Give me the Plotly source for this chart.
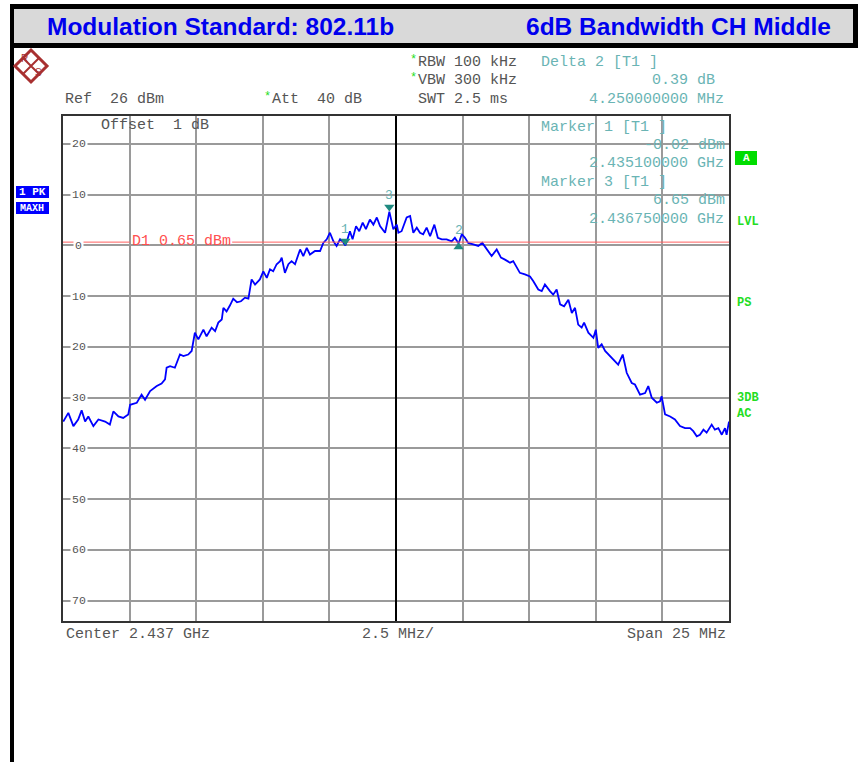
import plotly.graph_objects as go

# ---------------- data ----------------
center_ghz = 2.437
span_mhz = 25.0
ref_level_dbm = 26
freq_offset_mhz = [
    -12.49, -12.30, -12.11, -11.93, -11.80, -11.67, -11.55, -11.36, -11.17, -10.92,
    -10.74, -10.61, -10.42, -10.24, -10.05, -9.98, -9.73, -9.55, -9.42, -9.23,
    -8.98, -8.80, -8.67, -8.61, -8.48, -8.30, -8.11, -7.98, -7.80, -7.67,
    -7.55, -7.42, -7.23, -7.11, -6.92, -6.79, -6.67, -6.54, -6.48, -6.36,
    -6.23, -6.11, -5.97, -5.82, -5.67, -5.54, -5.42, -5.29, -5.11, -4.98,
    -4.85, -4.73, -4.61, -4.48, -4.35, -4.29, -4.17, -4.04, -3.92, -3.79,
    -3.60, -3.48, -3.35, -3.23, -3.04, -2.85, -2.73, -2.60, -2.48, -2.35,
    -2.23, -2.10, -1.98, -1.90, -1.82, -1.73, -1.63, -1.50, -1.38, -1.25,
    -1.13, -0.98, -0.85, -0.72, -0.60, -0.41, -0.33, -0.25, -0.10, 0.03,
    0.09, 0.21, 0.40, 0.53, 0.65, 0.78, 0.90, 1.02, 1.15, 1.28,
    1.44, 1.57, 1.72, 1.90, 2.09, 2.21, 2.35, 2.47, 2.59, 2.71,
    2.90, 3.09, 3.24, 3.40, 3.59, 3.78, 3.94, 4.09, 4.28, 4.40,
    4.53, 4.65, 4.84, 5.03, 5.15, 5.34, 5.47, 5.59, 5.78, 5.90,
    6.03, 6.16, 6.31, 6.47, 6.60, 6.72, 6.84, 6.97, 7.06, 7.22,
    7.41, 7.50, 7.59, 7.72, 7.85, 8.03, 8.22, 8.34, 8.51, 8.66,
    8.85, 8.97, 9.16, 9.35, 9.47, 9.60, 9.79, 9.91, 9.97, 10.10,
    10.29, 10.47, 10.66, 10.85, 11.04, 11.16, 11.29, 11.41, 11.54, 11.66,
    11.85, 11.97, 12.10, 12.23, 12.35, 12.41, 12.50,
]
level_dbm = [
    -34.7, -33.0, -35.6, -34.3, -32.5, -34.7, -33.7, -35.6, -34.3, -34.7,
    -35.3, -32.7, -33.7, -34.0, -33.3, -31.4, -31.0, -29.4, -30.4, -28.7,
    -27.7, -27.2, -26.4, -24.1, -23.8, -24.1, -21.5, -21.8, -21.5, -20.8,
    -17.2, -18.5, -16.6, -17.9, -16.2, -16.9, -15.2, -14.6, -12.3, -13.0,
    -11.8, -10.5, -11.2, -11.0, -10.3, -10.5, -6.7, -7.7, -6.7, -5.1,
    -6.4, -4.7, -5.1, -3.7, -3.1, -2.4, -5.4, -3.7, -3.1, -3.7,
    -0.8, -2.1, -0.5, -1.8, -1.1, -1.1, 0.5, 1.2, 2.5, 0.8,
    -0.1, 1.2, 0.6, -0.02, 1.2, 2.8, 1.2, 3.8, 2.8, 4.5,
    3.2, 5.1, 4.1, 5.5, 3.8, 2.5, 4.5, 6.65, 3.2, 4.1,
    2.5, 2.8, 5.5, 5.8, 2.5, 3.5, 2.5, 2.2, 3.5, 1.8,
    4.1, 1.5, 1.2, 1.2, 0.8, 1.5, 0.37, 2.2, 1.5, 0.5,
    0.2, -0.1, 0.5, -0.8, -2.1, -0.8, -2.4, -2.8, -3.4, -3.1,
    -4.4, -5.4, -5.7, -6.1, -7.0, -8.7, -9.0, -7.7, -9.0, -9.7,
    -8.7, -11.6, -12.0, -10.7, -13.3, -12.3, -15.6, -16.2, -15.2, -17.2,
    -18.2, -16.6, -20.2, -19.5, -20.8, -21.8, -22.8, -23.5, -21.5, -25.1,
    -27.1, -27.4, -29.4, -29.1, -27.7, -30.0, -31.0, -30.7, -29.7, -33.3,
    -33.7, -34.3, -35.6, -36.0, -36.0, -36.6, -37.6, -37.3, -36.3, -36.9,
    -35.3, -36.3, -36.0, -37.3, -36.0, -37.3, -34.7,
]
assert len(freq_offset_mhz) == len(level_dbm)

marker_names = ["1", "2", "3"]
marker_freq_mhz = [-1.90, 2.35, -0.25]
marker_level_dbm = [-0.02, 0.37, 6.65]
marker_symbols = ["triangle-down", "triangle-up", "triangle-down"]
display_line_dbm = 0.65
y_tick_values = [20, 10, 0, -10, -20, -30, -40, -50, -60, -70]
y_tick_labels = ["20", "10", "0", "10", "20", "30", "40", "50", "60", "70"]

# ---------------- geometry helpers (pixel -> paper) ----------------
L, R, T, B = 63, 729, 116, 621
W, H = 858, 762
def px(x):
    return (x - L) / (R - L)
def py(y):
    return (B - y) / (B - T)

MONO = "Liberation Mono, Courier New, monospace"
SANS = "Liberation Sans, Arial, sans-serif"
GRAY = "#555555"
TEAL = "#6ab4b4"
GREEN = "#22dd22"
NB = "\u00a0"

fig = go.Figure()
fig.add_trace(go.Scatter(
    x=freq_offset_mhz, y=level_dbm, mode="lines",
    line=dict(color="#0000ff", width=1.8), hoverinfo="skip", showlegend=False))

# display line D1 (two segments, interrupted by its label)
fig.add_trace(go.Scatter(
    x=[-12.5, -10.0, None, -6.15, 12.5],
    y=[display_line_dbm, display_line_dbm, None, display_line_dbm, display_line_dbm],
    mode="lines", line=dict(color="#ff6060", width=1), hoverinfo="skip", showlegend=False))

mk_y_shift = {"triangle-down": 0.9, "triangle-up": -0.7}
fig.add_trace(go.Scatter(
    x=marker_freq_mhz,
    y=[v + mk_y_shift[s] for v, s in zip(marker_level_dbm, marker_symbols)],
    mode="markers",
    marker=dict(symbol=marker_symbols, size=9, color="#1f8a80", line=dict(width=0)),
    hoverinfo="skip", showlegend=False))

ann = []
def txt(text, x, y, color=GRAY, size=15, anchor="left", font=MONO, bg=None, bold=False):
    t = text.replace("  ", NB + NB)
    if bold:
        t = "<b>" + t + "</b>"
    d = dict(text=t, x=px(x), y=py(y), xref="paper", yref="paper",
             xanchor=anchor, yanchor="middle", showarrow=False,
             font=dict(family=font, size=size, color=color))
    if bg:
        d["bgcolor"] = bg
        d["borderpad"] = 0
    ann.append(d)

# marker numbers
for name, f, v, s in zip(marker_names, marker_freq_mhz, marker_level_dbm, marker_symbols):
    ann.append(dict(text=name, x=f, y=v, xref="x", yref="y", showarrow=False,
                    yshift=16 if s == "triangle-down" else 13, xshift=0,
                    font=dict(family=MONO, size=13, color=TEAL)))

# title band
txt("<b>Modulation Standard: 802.11b</b>", 45, 26, color="#0000ee", size=24.5, font=SANS)
txt("<b>6dB Bandwidth CH Middle</b>", 833, 26, color="#0000ee", size=24.5, font=SANS, anchor="right")

# instrument header
txt("Ref  26 dBm", 63, 100)
txt("*", 262, 97, color=GREEN, size=12)
txt("Att  40 dB", 270, 100)
txt("*", 408, 60, color=GREEN, size=12)
txt("RBW 100 kHz", 416, 63)
txt("*", 408, 78, color=GREEN, size=12)
txt("VBW 300 kHz", 416, 81)
txt("SWT 2.5 ms", 416, 100)
txt("Delta 2 [T1 ]", 539, 63, color=TEAL)
txt("0.39 dB", 717, 81, color=TEAL, anchor="right")
txt("4.250000000 MHz", 726, 100, color=TEAL, anchor="right")

# inside the graticule
txt("Offset  1 dB", 99, 125)
txt("Marker 1 [T1 ]", 539, 127, color=TEAL)
txt("-0.02 dBm", 727, 145, color=TEAL, anchor="right")
txt("2.435100000 GHz", 726, 163, color=TEAL, anchor="right")
txt("Marker 3 [T1 ]", 539, 182, color=TEAL)
txt("6.65 dBm", 727, 200, color=TEAL, anchor="right")
txt("2.436750000 GHz", 726, 219, color=TEAL, anchor="right")
txt("D1 0.65 dBm", 130, 241, color="#ff5050")

# y labels on the grid lines
for v, lab in zip(y_tick_values, y_tick_labels):
    ann.append(dict(text=lab, x=px(78.5), y=v, xref="paper", yref="y",
                    xanchor="center", yanchor="middle", showarrow=False,
                    bgcolor="white", borderpad=1,
                    font=dict(family=MONO, size=11.5, color=GRAY)))

# footer
txt("Center 2.437 GHz", 64, 634)
txt("2.5 MHz/", 398, 634, anchor="center")
txt("Span 25 MHz", 728, 634, anchor="right")

# right-hand status labels
txt("A", 746, 158, color="white", size=11, anchor="center", bold=True)
txt("LVL", 735, 222, color=GREEN, size=12, bold=True)
txt("PS", 735, 303, color=GREEN, size=12, bold=True)
txt("3DB", 735, 398, color=GREEN, size=12, bold=True)
txt("AC", 735, 414, color=GREEN, size=12, bold=True)

# left trace labels
txt("1 PK", 32, 192, color="white", size=11, anchor="center", bold=True)
txt("MAXH", 32, 208, color="white", size=10, anchor="center", bold=True)

# R&S logo letters
txt("R", 24, 59, color="#a83030", size=10, anchor="center", font=SANS)
txt("S", 38, 73, color="#a83030", size=10, anchor="center", font=SANS)

shapes = []
def rect(x0, y0, x1, y1, fill, layer="below", line_w=0, line_c=None):
    shapes.append(dict(type="rect", xref="paper", yref="paper",
                       x0=px(x0), x1=px(x1), y0=py(y1), y1=py(y0),
                       fillcolor=fill, layer=layer,
                       line=dict(width=line_w, color=line_c or fill)))

# outer frame / title band
rect(10, 4, 858, 48, "black")
rect(14, 9, 853, 43, "#d9d9d9")
rect(10, 4, 14, 762, "black")
# status boxes
rect(735, 151, 757, 165, "#00dd00")
rect(16, 186, 49, 198, "#0000ff")
rect(16, 202, 49, 214, "#0000ff")

# R&S diamond
cx, cy, r = 31, 66, 16
path = "M {},{} L {},{} L {},{} L {},{} Z".format(
    px(cx), py(cy - r), px(cx + r), py(cy), px(cx), py(cy + r), px(cx - r), py(cy))
shapes.append(dict(type="path", xref="paper", yref="paper", path=path,
                   line=dict(color="#a83030", width=3), layer="above"))
path2 = "M {},{} L {},{} M {},{} L {},{}".format(
    px(cx - r / 2), py(cy - r / 2), px(cx + r / 2), py(cy + r / 2),
    px(cx - r / 2), py(cy + r / 2), px(cx + r / 2), py(cy - r / 2))
shapes.append(dict(type="path", xref="paper", yref="paper", path=path2,
                   line=dict(color="#a83030", width=2), layer="above"))

fig.update_layout(
    width=W, height=H,
    margin=dict(l=L, r=W - R, t=T, b=H - B, pad=0),
    paper_bgcolor="white", plot_bgcolor="white",
    showlegend=False,
    annotations=ann, shapes=shapes,
    xaxis=dict(range=[-span_mhz / 2, span_mhz / 2], dtick=2.5, tick0=0,
               showticklabels=False, ticks="",
               showgrid=True, gridcolor="#9a9a9a", gridwidth=1.5,
               zeroline=True, zerolinecolor="black", zerolinewidth=2.2,
               showline=True, linecolor="#333333", linewidth=2, mirror=True),
    yaxis=dict(range=[-74, 25.5], tickvals=y_tick_values,
               showticklabels=False, ticks="",
               showgrid=True, gridcolor="#9a9a9a", gridwidth=1.5,
               zeroline=False,
               showline=True, linecolor="#333333", linewidth=2, mirror=True),
)

fig.write_html("out.html", config={"displayModeBar": False},
               post_script="document.body.style.margin='0px';document.body.style.overflow='hidden';")
